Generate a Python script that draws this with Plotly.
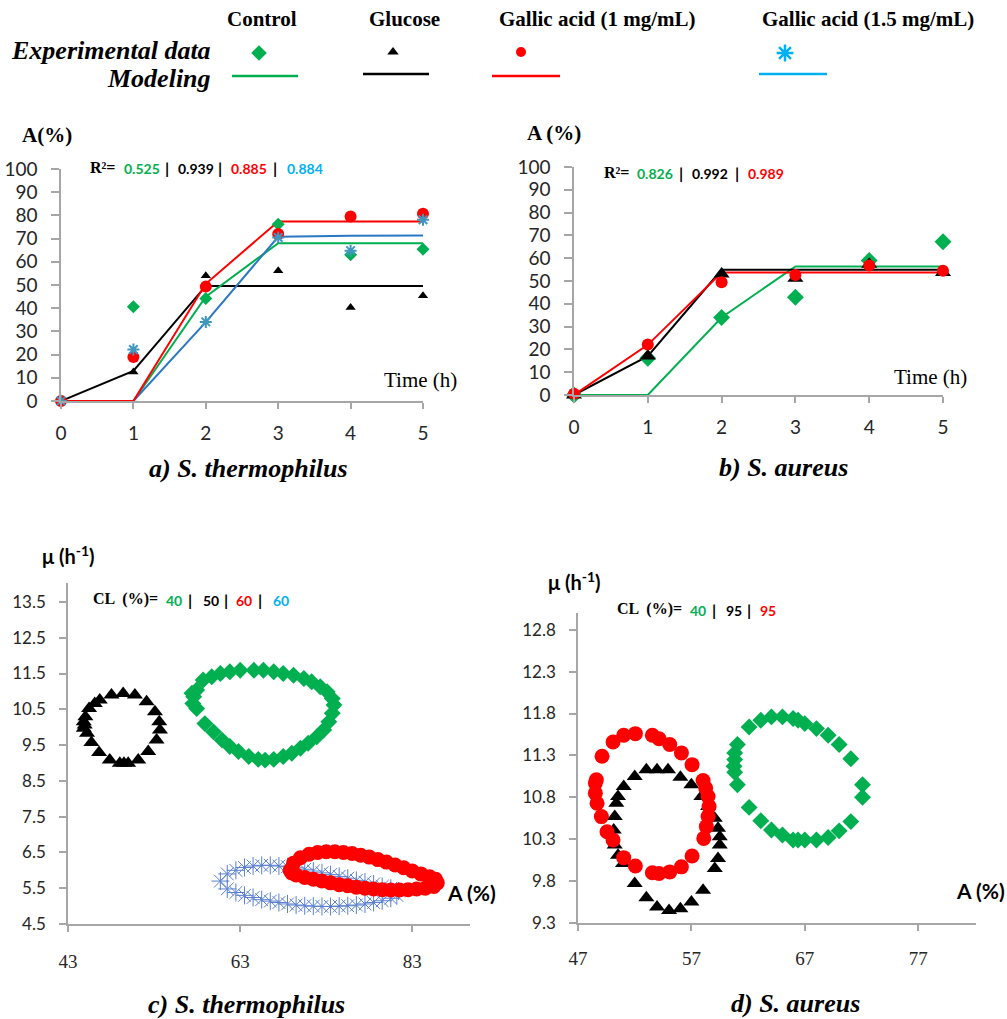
import plotly.graph_objects as go

W, H = 1007, 1019

# ---------------- DATA ----------------
time_h = [0, 1, 2, 3, 4, 5]

# Panel a: S. thermophilus, A (%)
a_ctrl_exp = [0, 40.6, 44.2, 76.2, 63.0, 65.4]
a_glu_exp = [0, 12.5, 54.0, 56.1, 40.3, 45.4]
a_ga1_exp = [0, 19.0, 49.3, 72.0, 79.5, 80.7]
a_ga15_exp = [0, 22.2, 34.1, 70.5, 64.8, 78.1]
a_ctrl_mod = [0, 0, 45.0, 68.0, 68.0, 68.0]
a_glu_mod = [0, 13.0, 49.6, 49.6, 49.6, 49.6]
a_ga1_mod = [0, 0, 50.5, 77.4, 77.4, 77.4]
a_ga15_mod = [0, 0, 34.0, 70.8, 71.2, 71.3]
r2_a = ["0.525", "0.939", "0.885", "0.884"]

# Panel b: S. aureus, A (%)
b_ctrl_exp = [0, 16.1, 34.0, 42.9, 59.0, 67.2]
b_glu_exp = [0, 17.1, 53.1, 51.2, 57.3, 53.7]
b_ga1_exp = [0.5, 22.1, 49.5, 52.6, 56.8, 54.5]
b_ctrl_mod = [0, 0, 34.0, 56.4, 56.4, 56.4]
b_glu_mod = [0, 17.0, 54.9, 54.9, 54.9, 54.9]
b_ga1_mod = [0, 22.0, 53.7, 53.7, 53.7, 53.7]
r2_b = ["0.826", "0.992", "0.989"]

# Panel c: S. thermophilus confidence regions (A %, mu h-1)
c_ctrl_A = [57.95, 57.6, 57.5, 57.95, 58.9, 59.9, 60.9, 61.8, 62.8, 64.0, 65.1, 65.9, 66.9, 68.0,
            69.0, 70.0, 70.9, 71.9, 72.7, 73.3, 73.7, 73.9, 73.7, 73.1, 72.3, 71.3, 70.4, 69.2,
            68.0, 66.9, 65.7, 64.6, 63.0, 61.8, 60.7, 59.7, 58.7, 57.4]
c_ctrl_mu = [11.04, 10.85, 10.66, 10.52, 10.1, 9.87, 9.64, 9.46, 9.32, 9.18, 9.1, 9.08, 9.1, 9.18,
             9.27, 9.41, 9.55, 9.73, 9.92, 10.15, 10.39, 10.62, 10.8, 10.99, 11.13, 11.27, 11.36, 11.45,
             11.5, 11.55, 11.59, 11.59, 11.59, 11.55, 11.5, 11.41, 11.32, 10.95]
c_glu_A = [46.69, 48.05, 49.41, 50.77, 52.13, 53.10, 53.60, 53.68, 53.29, 52.32, 51.16, 49.99,
           49.5, 49.02, 47.85, 46.61, 45.72, 45.21, 44.94, 44.83, 44.83, 45.02, 45.45, 46.11]
c_glu_mu = [10.76, 10.90, 10.94, 10.90, 10.71, 10.43, 10.15, 9.92, 9.64, 9.32, 9.08, 8.99,
            8.99, 8.99, 9.08, 9.29, 9.57, 9.83, 10.06, 9.97, 10.15, 10.29, 10.52, 10.66]
c_ga1_A = [68.8, 69.2, 70.0, 71.0, 72.0, 73.0, 74.0, 75.0, 76.0, 77.0, 78.0, 79.0, 80.0, 81.0,
           82.0, 83.0, 84.0, 85.0, 85.7, 85.9, 85.5, 84.5, 83.5, 82.5, 81.5, 80.5, 79.5, 78.5,
           77.5, 76.5, 75.5, 74.5, 73.5, 72.5, 71.5, 70.5, 69.5, 69.0]
c_ga1_mu = [6.0, 6.2, 6.35, 6.45, 6.5, 6.52, 6.52, 6.5, 6.47, 6.42, 6.37, 6.3, 6.23, 6.15,
            6.07, 5.98, 5.9, 5.82, 5.75, 5.65, 5.55, 5.5, 5.48, 5.46, 5.45, 5.45, 5.46, 5.48,
            5.5, 5.53, 5.57, 5.6, 5.65, 5.7, 5.75, 5.8, 5.87, 5.93]
c_ga15_A = [60.7, 61.5, 62.5, 63.5, 64.5, 65.5, 66.5, 67.5, 68.5, 69.5, 70.5, 71.5, 72.5, 73.5,
            74.5, 75.5, 76.5, 77.5, 78.5, 79.5, 80.5, 81.4, 81.2, 80.5, 79.5, 78.5, 77.5, 76.5,
            75.5, 74.5, 73.5, 72.5, 71.5, 70.5, 69.5, 68.5, 67.5, 66.5, 65.5, 64.5, 63.5, 62.5, 61.5]
c_ga15_mu = [5.7, 5.9, 6.0, 6.08, 6.12, 6.14, 6.14, 6.12, 6.1, 6.07, 6.03, 5.98, 5.93, 5.88,
             5.83, 5.78, 5.72, 5.67, 5.62, 5.55, 5.5, 5.42, 5.3, 5.22, 5.15, 5.1, 5.06, 5.03,
             5.01, 5.0, 4.99, 4.99, 5.0, 5.01, 5.03, 5.06, 5.1, 5.14, 5.18, 5.24, 5.3, 5.38, 5.48]
cl_c = ["40", "50", "60", "60"]

# Panel d: S. aureus confidence regions
d_ctrl_A = [62.09, 63.12, 64.06, 65.03, 65.97, 66.41, 67.0, 68.03, 69.06, 70.03, 71.06, 72.09,
            72.09, 71.06, 70.03, 69.06, 68.03, 67.0, 66.41, 65.97, 65.03, 64.06, 63.12, 62.09,
            61.06, 60.82, 60.76, 60.82, 60.82, 61.06]
d_ctrl_mu = [11.64, 11.72, 11.76, 11.76, 11.74, 11.72, 11.68, 11.62, 11.54, 11.43, 11.26, 10.95,
             10.8, 10.51, 10.4, 10.32, 10.29, 10.29, 10.29, 10.29, 10.35, 10.41, 10.52, 10.68,
             10.95, 11.1, 11.17, 11.25, 11.33, 11.43]
d_glu_A = [52.0, 53.03, 53.97, 54.94, 56.03, 57.0, 57.88, 58.47, 59.06, 59.35, 59.5, 59.5, 59.35,
           59.06, 58.03, 57.0, 56.03, 55.03, 53.97, 53.03, 52.0, 50.97, 50.53, 50.24, 50.15, 50.24,
           50.38, 50.53, 51.03]
d_glu_mu = [11.05, 11.13, 11.13, 11.13, 11.04, 10.95, 10.81, 10.69, 10.55, 10.43, 10.33, 10.23,
            10.07, 9.95, 9.69, 9.55, 9.47, 9.45, 9.49, 9.6, 9.77, 10.01, 10.11, 10.23, 10.41, 10.57,
            10.73, 10.81, 10.93]
d_ga1_A = [49.12, 50.09, 51.03, 52.06, 53.56, 54.15, 55.09, 56.12, 57.06, 58.03, 58.26, 58.47,
           58.56, 58.47, 58.32, 58.09, 57.06, 56.12, 55.09, 54.15, 53.56, 52.06, 51.03, 50.09,
           49.56, 49.06, 48.68, 48.53, 48.53, 48.62]
d_ga1_mu = [11.29, 11.46, 11.54, 11.56, 11.54, 11.5, 11.43, 11.33, 11.19, 11.0, 10.91, 10.81,
            10.69, 10.57, 10.45, 10.31, 10.1, 9.97, 9.91, 9.89, 9.9, 9.98, 10.08, 10.29,
            10.39, 10.57, 10.73, 10.85, 10.97, 11.01]
cl_d = ["40", "95", "95"]

legend_groups = ["Control", "Glucose", "Gallic acid (1 mg/mL)", "Gallic acid (1.5 mg/mL)"]

# ---------------- STYLE ----------------
GREEN = "#00b050"
BLACK = "#000000"
RED = "#ff0000"
LBLUE = "#00b0f0"
TEAL = "#3f97bf"
LINEBLUE = "#2a78c4"
CBLUE = "#5a80d0"
AXC = "#a6a6a6"
SERIF = "Liberation Serif"
SANS = "Lato"


def dom_x(p0, p1):
    return [p0 / W, p1 / W]


def dom_y(top, bottom):
    return [1 - bottom / H, 1 - top / H]


fig = go.Figure()


def add_pts(x, y, xa, ya, sym, color, size, line_w=0):
    m = dict(symbol=sym, size=size, color=color)
    if sym.endswith("open"):
        m["line"] = dict(color=color, width=line_w)
    else:
        m["line"] = dict(width=0)
    fig.add_trace(go.Scatter(x=x, y=y, xaxis=xa, yaxis=ya, mode="markers",
                             marker=m, cliponaxis=False, showlegend=False, hoverinfo="skip"))


def add_line(x, y, xa, ya, color, width=2):
    fig.add_trace(go.Scatter(x=x, y=y, xaxis=xa, yaxis=ya, mode="lines",
                             line=dict(color=color, width=width), showlegend=False, hoverinfo="skip"))


# Panel a
add_line(time_h, a_glu_mod, "x", "y", BLACK)
add_line(time_h, a_ctrl_mod, "x", "y", GREEN)
add_line(time_h, a_ga15_mod, "x", "y", LINEBLUE)
add_line(time_h, a_ga1_mod, "x", "y", RED)
add_pts(time_h, a_ctrl_exp, "x", "y", "diamond", GREEN, 10)
add_pts(time_h, a_glu_exp, "x", "y", "triangle-up", BLACK, 9)
add_pts(time_h, a_ga1_exp, "x", "y", "circle", RED, 12)
add_pts(time_h, a_ga15_exp, "x", "y", "asterisk-open", TEAL, 10, 2)

# Panel b
add_line(time_h, b_ctrl_mod, "x2", "y2", GREEN)
add_line(time_h, b_glu_mod, "x2", "y2", BLACK)
add_line(time_h, b_ga1_mod, "x2", "y2", RED)
add_pts(time_h, b_ctrl_exp, "x2", "y2", "diamond", GREEN, 13)
add_pts(time_h, b_glu_exp, "x2", "y2", "triangle-up", BLACK, 14)
add_pts(time_h, b_ga1_exp, "x2", "y2", "circle", RED, 12)

# Panel c
add_pts(c_glu_A, c_glu_mu, "x3", "y3", "triangle-up", BLACK, 14)
add_pts(c_ctrl_A, c_ctrl_mu, "x3", "y3", "diamond", GREEN, 13)
add_pts(c_ga15_A, c_ga15_mu, "x3", "y3", "asterisk-open", CBLUE, 15, 1)
add_pts(c_ga1_A, c_ga1_mu, "x3", "y3", "circle", RED, 15)

# Panel d
add_pts(d_ctrl_A, d_ctrl_mu, "x4", "y4", "diamond", GREEN, 13)
add_pts(d_glu_A, d_glu_mu, "x4", "y4", "triangle-up", BLACK, 14)
add_pts(d_ga1_A, d_ga1_mu, "x4", "y4", "circle", RED, 15)

# Legend markers (pixel-space helper axis)
add_pts([259], [53], "x5", "y5", "diamond", GREEN, 12)
add_pts([393], [52], "x5", "y5", "triangle-up", BLACK, 10)
add_pts([521], [52], "x5", "y5", "circle", RED, 10)
add_pts([785], [53], "x5", "y5", "asterisk-open", LBLUE, 14, 2.5)

tickfont_big = dict(family=SANS, size=19, color="#262626")
tickfont_mid = dict(family=SANS, size=17, color="#262626")
tickfont_ser = dict(family=SERIF, size=19, color="#262626")

common = dict(showline=True, linecolor=AXC, linewidth=1.5, showgrid=False, zeroline=False,
              ticks="outside", tickcolor=AXC, tickwidth=1.5, automargin=False)

fig.update_layout(
    template="none",
    width=W, height=H, margin=dict(l=0, r=0, t=0, b=0, pad=0, autoexpand=False),
    paper_bgcolor="white", plot_bgcolor="rgba(0,0,0,0)", showlegend=False,
    xaxis=dict(domain=dom_x(61, 423), range=[0, 5], anchor="y", tickvals=time_h, ticklen=6,
               tickfont=tickfont_big, ticklabelstandoff=8, **common),
    yaxis=dict(domain=dom_y(169, 401), range=[0, 100], anchor="x", dtick=10, tick0=0, ticklen=8,
               tickfont=tickfont_big, ticklabelstandoff=10, **common),
    xaxis2=dict(domain=dom_x(574, 943), range=[0, 5], anchor="y2", tickvals=time_h, ticklen=6,
                tickfont=tickfont_big, ticklabelstandoff=8, **common),
    yaxis2=dict(domain=dom_y(167, 395), range=[0, 100], anchor="x2", dtick=10, tick0=0, ticklen=8,
                tickfont=tickfont_big, ticklabelstandoff=10, **common),
    xaxis3=dict(domain=dom_x(68, 470), range=[43, 89.7], anchor="y3", tickvals=[43, 63, 83], ticklen=6,
                tickfont=tickfont_ser, ticklabelstandoff=13, **common),
    yaxis3=dict(domain=dom_y(583, 924), range=[4.5, 14.03], anchor="x3", dtick=1, tick0=4.5,
                tickformat=".1f", ticklen=7, tickfont=tickfont_mid, ticklabelstandoff=10, **common),
    xaxis4=dict(domain=dom_x(578, 976), range=[47, 82.1], anchor="y4", tickvals=[47, 57, 67, 77], ticklen=6,
                tickfont=tickfont_ser, ticklabelstandoff=11, **common),
    yaxis4=dict(domain=dom_y(613, 923), range=[9.3, 13.0], anchor="x4", dtick=0.5, tick0=9.3,
                tickformat=".1f", ticklen=7, tickfont=tickfont_mid, ticklabelstandoff=10, **common),
    xaxis5=dict(domain=[0, 1], range=[0, W], anchor="y5", visible=False, fixedrange=True, automargin=False),
    yaxis5=dict(domain=[0, 1], range=[H, 0], anchor="x5", visible=False, fixedrange=True, automargin=False),
)

ann = []


def txt(x, y, s, family, size, color="#000", bold=False, italic=False, xanchor="left"):
    if bold:
        s = "<b>" + s + "</b>"
    if italic:
        s = "<i>" + s + "</i>"
    ann.append(dict(x=x, y=y, xref="x5", yref="y5", text=s, showarrow=False, xanchor=xanchor,
                    yanchor="middle", font=dict(family=family, size=size, color=color)))


# Legend block
centers = [262, 404, 597, 868]
for c, g in zip(centers, legend_groups):
    txt(c, 19, g, SERIF, 21, bold=True, xanchor="center")
txt(213, 50, "Experimental data", SERIF, 26, bold=True, italic=True, xanchor="right")
txt(213, 78, "Modeling", SERIF, 26, bold=True, italic=True, xanchor="right")
shapes = []
for (x0, x1, yy, col) in [(232, 298, 76, GREEN), (363, 429, 74, BLACK), (492, 560, 76, RED), (759, 827, 74, LBLUE)]:
    shapes.append(dict(type="line", xref="x5", yref="y5", x0=x0, x1=x1, y0=yy, y1=yy,
                       line=dict(color=col, width=2.5)))

series_colors = [GREEN, BLACK, RED, LBLUE]

# R2 panel a
txt(88, 167, "R²=", SERIF, 16, bold=True)
for xv, s, col in zip([122, 176, 229, 285], r2_a, series_colors):
    txt(xv, 168, s, SANS, 14, color=col, bold=True)
for xv in [167, 220, 275]:
    txt(xv, 167, "|", SANS, 16, bold=True, xanchor="center")
# R2 panel b
txt(602, 172, "R²=", SERIF, 16, bold=True)
for xv, s, col in zip([635, 690, 746], r2_b, series_colors):
    txt(xv, 173, s, SANS, 14, color=col, bold=True)
for xv in [681, 737]:
    txt(xv, 172, "|", SANS, 16, bold=True, xanchor="center")
# CL panel c
txt(91, 599, "CL  (%)=", SERIF, 16, bold=True)
for xv, s, col in zip([164, 201, 234, 271], cl_c, series_colors):
    txt(xv, 600, s, SANS, 14, color=col, bold=True)
for xv in [190, 226, 260]:
    txt(xv, 599, "|", SANS, 16, bold=True, xanchor="center")
# CL panel d
txt(615, 609, "CL  (%)=", SERIF, 16, bold=True)
for xv, s, col in zip([688, 724, 758], cl_d, series_colors):
    txt(xv, 610, s, SANS, 14, color=col, bold=True)
for xv in [714, 749]:
    txt(xv, 609, "|", SANS, 16, bold=True, xanchor="center")

# Axis titles
txt(20, 135, "A(%)", SERIF, 21, bold=True)
txt(525, 133, "A (%)", SERIF, 21, bold=True)
txt(382, 380, "Time (h)", SERIF, 21)
txt(892, 377, "Time (h)", SERIF, 21)
txt(40, 555, "μ (h<sup>-1</sup>)", SANS, 20, bold=True)
txt(546, 581, "μ (h<sup>-1</sup>)", SANS, 20, bold=True)
txt(445, 892, "A (%)", SANS, 21, bold=True)
txt(954, 890, "A (%)", SANS, 21, bold=True)

# Captions
txt(248, 468, "a) S. thermophilus", SERIF, 26, bold=True, italic=True, xanchor="center")
txt(783, 467, "b) S. aureus", SERIF, 26, bold=True, italic=True, xanchor="center")
txt(246, 1004, "c) S. thermophilus", SERIF, 26, bold=True, italic=True, xanchor="center")
txt(795, 1003, "d) S. aureus", SERIF, 26, bold=True, italic=True, xanchor="center")

fig.update_layout(annotations=ann, shapes=shapes)

fig.write_html("out.html")
